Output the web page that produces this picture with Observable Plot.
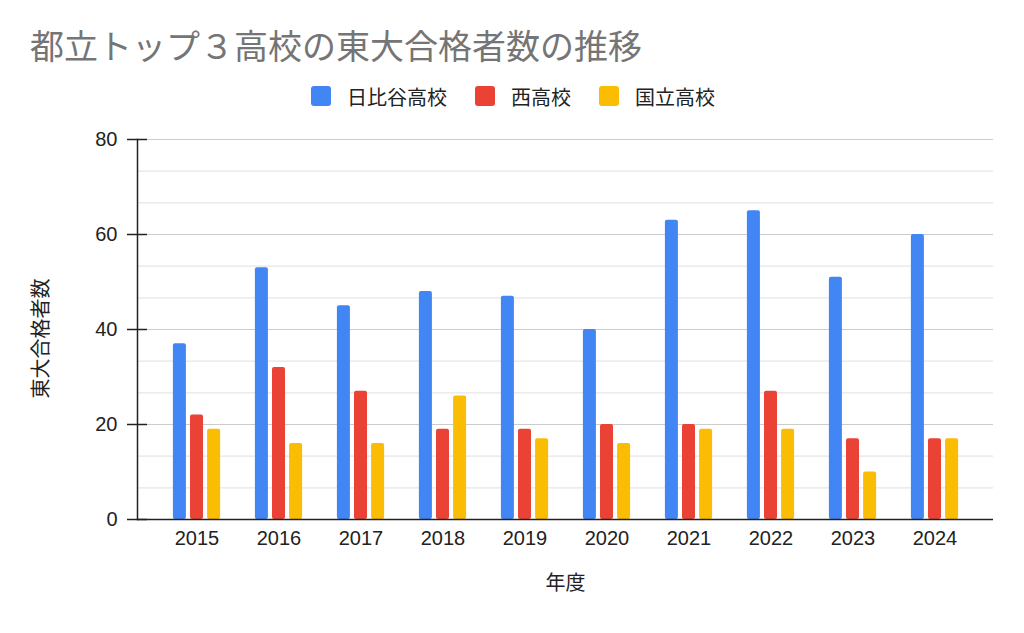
<!DOCTYPE html>
<html>
<head>
<meta charset="utf-8">
<script src="https://cdn.jsdelivr.net/npm/d3@7"></script>
<script src="https://cdn.jsdelivr.net/npm/@observablehq/plot@0.6"></script>
<style>
  html, body { margin: 0; padding: 0; background: #fff; }
  body { width: 1024px; height: 633px; overflow: hidden; font-family: "Liberation Sans", Arial, "Noto Sans CJK JP", sans-serif; }
  #title { height: 72px; box-sizing: border-box; padding-left: 30px; padding-top: 25px; font-size: 34px; line-height: 40px; color: #757575; font-family: "Noto Sans CJK JP", sans-serif; white-space: nowrap; }
  #legend { height: 48px; display: flex; justify-content: flex-start; align-items: center; padding-left: 311px; box-sizing: border-box; }
  #legend .item { display: flex; align-items: center; margin-right: 28px; font-size: 20px; color: #222; font-family: "Noto Sans CJK JP", sans-serif; }
  #legend .sw { width: 20px; height: 20px; border-radius: 3px; margin-right: 16px; }
  #chart svg { display: block; }
</style>
</head>
<body>
<div id="title"></div>
<div id="legend"></div>
<div id="chart"></div>
<script>
const titleText = "都立トップ３高校の東大合格者数の推移";
const years = ["2015","2016","2017","2018","2019","2020","2021","2022","2023","2024"];
const schools = ["日比谷高校", "西高校", "国立高校"];
const hibiya = [37, 53, 45, 48, 47, 40, 63, 65, 51, 60];
const nishi = [22, 32, 27, 19, 19, 20, 20, 27, 17, 17];
const kunitachi = [19, 16, 16, 26, 17, 16, 19, 19, 10, 17];
const colors = ["#4285F4", "#EA4335", "#FBBC04"];
const majorTicks = [0, 20, 40, 60, 80];
const minorTicks = [20/3, 40/3, 80/3, 100/3, 140/3, 160/3, 200/3, 220/3];
const yLabel = "東大合格者数";
const xLabel = "年度";

document.getElementById("title").textContent = titleText;
const legend = document.getElementById("legend");
schools.forEach((s, i) => {
  const it = document.createElement("div");
  it.className = "item";
  const sw = document.createElement("div");
  sw.className = "sw";
  sw.style.background = colors[i];
  const t = document.createElement("span");
  t.textContent = s;
  it.appendChild(sw); it.appendChild(t);
  legend.appendChild(it);
});

const seriesValues = [hibiya, nishi, kunitachi];
const barMarks = seriesValues.map((vals, i) =>
  Plot.barY(years.map((y, j) => ({year: y, value: vals[j], school: schools[i]})), {
    x: "year", y: "value", fill: colors[i],
    insetLeft: 17, insetRight: 17, dx: (i - 1) * 17.1, rx: 2
  })
);

const font = "'Liberation Sans', Arial, 'Noto Sans CJK JP', sans-serif";
const plot = Plot.plot({
  width: 1024,
  height: 513,
  marginTop: 19,
  marginBottom: 114,
  marginLeft: 137,
  marginRight: 31,
  style: { fontFamily: font, fontSize: "20px", color: "#222", background: "#fff", overflow: "visible" },
  x: { domain: years, paddingInner: 0.428, paddingOuter: 0.373, label: null },
  y: { domain: [0, 80], label: null },
  marks: [
    Plot.ruleY(minorTicks, { stroke: "#e6e6e6", strokeWidth: 1.2 }),
    Plot.ruleY(majorTicks.filter(d => d !== 0), { stroke: "#cccccc", strokeWidth: 1.2 }),
    ...barMarks,
    Plot.frame({ anchor: "left", stroke: "#222", strokeWidth: 1.5 }),
    Plot.ruleY([0], { stroke: "#222", strokeWidth: 1.5 }),
    Plot.axisY({ ticks: majorTicks, tickSize: 10, tickPadding: 10, label: null, fontSize: 20, stroke: "#222", strokeWidth: 1.5, fill: "#222" }),
    Plot.axisY({ ticks: majorTicks, tickSize: 10, dx: 10, text: null, label: null, stroke: "#222", strokeWidth: 1.5 }),
    Plot.axisX({ tickSize: 0, tickPadding: 11, label: null, fontSize: 20, fill: "#222" }),
    Plot.text([yLabel], { frameAnchor: "left", textAnchor: "middle", dx: -96, dy: 9, rotate: -90, fontSize: 20, fill: "#222", fontFamily: "'Noto Sans CJK JP', sans-serif" }),
    Plot.text([xLabel], { frameAnchor: "bottom", dy: 70, fontSize: 20, fill: "#222", fontFamily: "'Noto Sans CJK JP', sans-serif" })
  ]
});
document.getElementById("chart").appendChild(plot);
</script>
</body>
</html>
